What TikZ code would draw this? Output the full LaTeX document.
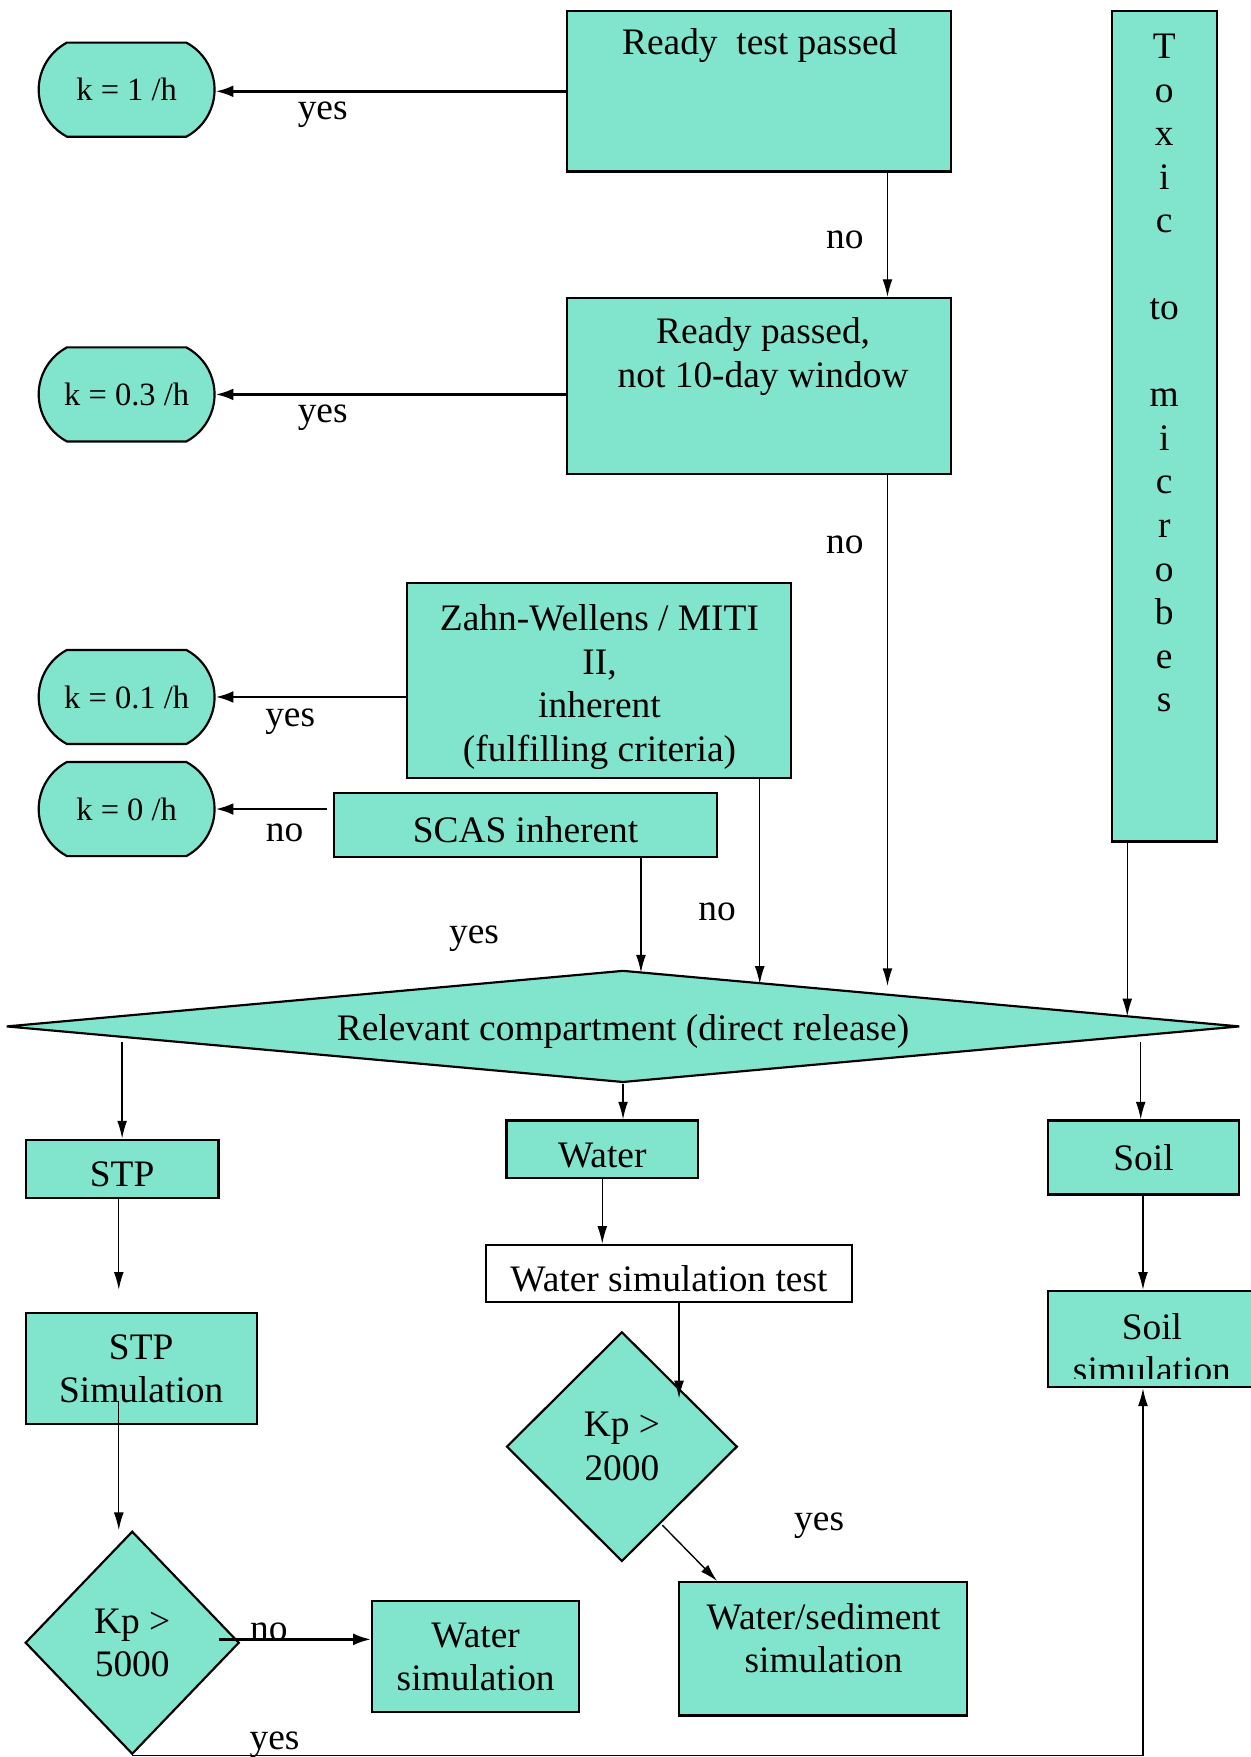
\documentclass[tikz,border=0pt]{standalone}
\usepackage{fontspec}
\setmainfont{Liberation Serif}
\usetikzlibrary{arrows.meta,shapes.geometric,shapes.misc}
\definecolor{aqua}{RGB}{129,229,205}

\begin{document}
\begin{tikzpicture}[x=0.02cm,y=-0.02cm,
		every node/.style={font=\fontsize{19}{22.1}\selectfont},
		lowtext/.style={execute at begin node=\rule{0pt}{18.5pt}},
		plainbox/.style={draw,fill=aqua,line width=1.1pt,inner sep=0pt,align=center},
		box/.style={plainbox,lowtext},
		kbox/.style={rounded rectangle,rounded rectangle arc length=124,draw,fill=aqua,line width=1.1pt,
			inner xsep=0pt,minimum width=3.14cm,minimum height=1.68cm,font=\fontsize{16.5}{19}\selectfont},
		decision/.style={diamond,draw,fill=aqua,line width=1.1pt,inner sep=0pt,align=center},
		arr/.style={-{Latex[length=9pt,width=5pt]},line width=0.7pt},
		arrthick/.style={-{Latex[length=9pt,width=6pt]},line width=1.3pt},
		lab/.style={inner sep=0pt}]
		\useasboundingbox (0,0) rectangle (1116,1568);
		% rate constants
		\node[kbox] (k1) at (113,80) {k = 1 /h};
		\node[kbox] (k03) at (113,352) {k = 0.3 /h};
		\node[kbox] (k01) at (113,622) {k = 0.1 /h};
		\node[kbox] (k0) at (113,722) {k = 0 /h};
		% tests
		\node[plainbox,minimum width=6.86cm,minimum height=2.86cm] (ready) at (677.5,81.5) {};
		\node (readytxt) at (678,41) {Ready\ \ test passed};
		\node[plainbox,minimum width=6.86cm,minimum height=3.14cm] (passed) at (677.5,344.5) {};
		\node[align=center] (passedtxt) at (681,318) {Ready passed,\\not 10-day window};
		\node[plainbox,minimum width=1.88cm,minimum height=14.82cm] (toxic) at (1039,380.5) {};
		\node[align=center] (toxictxt) at (1039,333) {T\\o\\x\\i\\c\\\mbox{}\\to\\\mbox{}\\m\\i\\c\\r\\o\\b\\e\\s};
		\node[plainbox,minimum width=6.86cm,minimum height=3.48cm] (zahn) at (534.5,607) {};
		\node[align=center] (zahntxt) at (535,613) {Zahn-Wellens / MITI\\II,\\inherent\\(fulfilling criteria)};
		\node[box,minimum width=6.84cm,minimum height=1.14cm] (scas) at (469,736) {SCAS inherent};
		% compartments
		\node[decision,lowtext,aspect=11,minimum width=22.02cm,minimum height=2cm] (rel) at (556,916) {Relevant compartment (direct release)};
		\node[box,minimum width=3.44cm,minimum height=1.04cm] (stp) at (109,1043) {STP};
		\node[plainbox,minimum width=4.12cm,minimum height=1.98cm] (stpsim) at (126,1221.5) {STP\\Simulation};
		\node[decision,minimum width=3.82cm,minimum height=3.98cm] (kp5) at (118,1466) {Kp >\\5000};
		\node[plainbox,minimum width=3.7cm,minimum height=1.98cm] (wsim) at (424.5,1478.5) {Water\\simulation};
		\node[box,minimum width=3.42cm,minimum height=1.02cm] (water) at (537.5,1025.5) {Water};
		\node[box,fill=white,minimum width=6.52cm,minimum height=1.02cm] (wtest) at (597,1136.5) {Water simulation test};
		\node[decision,minimum width=4.12cm,minimum height=4.1cm] (kp2) at (555,1291) {Kp >\\2000};
		\node[plainbox,minimum width=5.14cm,minimum height=2.38cm] (wsed) at (734.5,1471.5) {};
		\node[align=center] (wsedtxt) at (735,1462) {Water/sediment\\simulation};
		\node[plainbox,minimum width=3.42cm,minimum height=1.32cm] (soil) at (1020.5,1033) {Soil};
		\node[plainbox,minimum width=3.8cm,minimum height=1.72cm] (soilsim) at (1030,1195) {};
		\begin{scope}
			\clip ([yshift=0.18cm]soilsim.south west) rectangle (soilsim.north east);
			\node[align=center] (soilsimtxt) at (1028,1203) {Soil\\simulation};
		\end{scope}
		% free ends
		\coordinate (in1) at (792,880);
		\coordinate (in2) at (678,878);
		\coordinate (in3) at (572,868);
		\coordinate (in4) at (1006,907);
		\coordinate (out1) at (109,930);
		\coordinate (out3) at (1018,930);
		\coordinate (stpend) at (106,1151);
		\coordinate (simout) at (106,1250);
		\coordinate (kp5no) at (195,1463);
		\coordinate (kpin) at (606,1248);
		\coordinate (kpout) at (591,1361);
		\coordinate (sedin) at (640,1411);
		% connectors
		\draw[arrthick] (ready.west) -- (ready.west -| k1.east);
		\draw[arr] (ready.south -| 792,0) -- (passed.north -| 792,0);
		\draw[arrthick] (passed.west |- k03) -- (k03.east);
		\draw[arr] (passed.south -| 792,0) -- (in1);
		\draw[arrthick] (zahn.west |- k01) -- (k01.east);
		\draw[arr] (zahn.south -| 678,0) -- (in2);
		\draw[arrthick] ([xshift=-3pt]scas.west |- k0) -- (k0.east);
		\draw[arr] (scas.south -| 572,0) -- (in3);
		\draw[arr] (toxic.south -| 1006,0) -- (in4);
		\draw[arr] (out1) -- (stp.north);
		\draw[arr] (stp.south -| stpend) -- (stpend);
		\draw[arr] (simout) -- (kp5.north -| simout);
		\draw[arrthick] (kp5no) -- (wsim.west |- kp5no);
		\draw[arr] (kp5.south) -- (kp5.south -| 1020,0) -- (soilsim.south -| 1020,0);
		\draw[arr] (rel.south) -- (rel.south |- water.north);
		\draw[arr] (water.south) -- (water.south |- wtest.north);
		\draw[arr] (wtest.south -| kpin) -- (kpin);
		\draw[arr] (kpout) -- (sedin);
		\draw[arr] (out3) -- (soil.north -| out3);
		\draw[arr] (soil.south -| 1020,0) -- (soilsim.north -| 1020,0);
		% labels
		\node[lab] (yes1) at (288,102) {yes};
		\node[lab] (no1) at (754,214) {no};
		\node[lab] (yes2) at (288,373) {yes};
		\node[lab] (no2) at (754,486) {no};
		\node[lab] (yes3) at (259,644) {yes};
		\node[lab] (no3) at (254,743) {no};
		\node[lab] (yes4) at (423,838) {yes};
		\node[lab] (no4) at (640,814) {no};
		\node[lab] (no5) at (240,1456) {no};
		\node[lab] (yes5) at (245,1557) {yes};
		\node[lab] (yes6) at (731,1362) {yes};
	\end{tikzpicture}
\end{document}
